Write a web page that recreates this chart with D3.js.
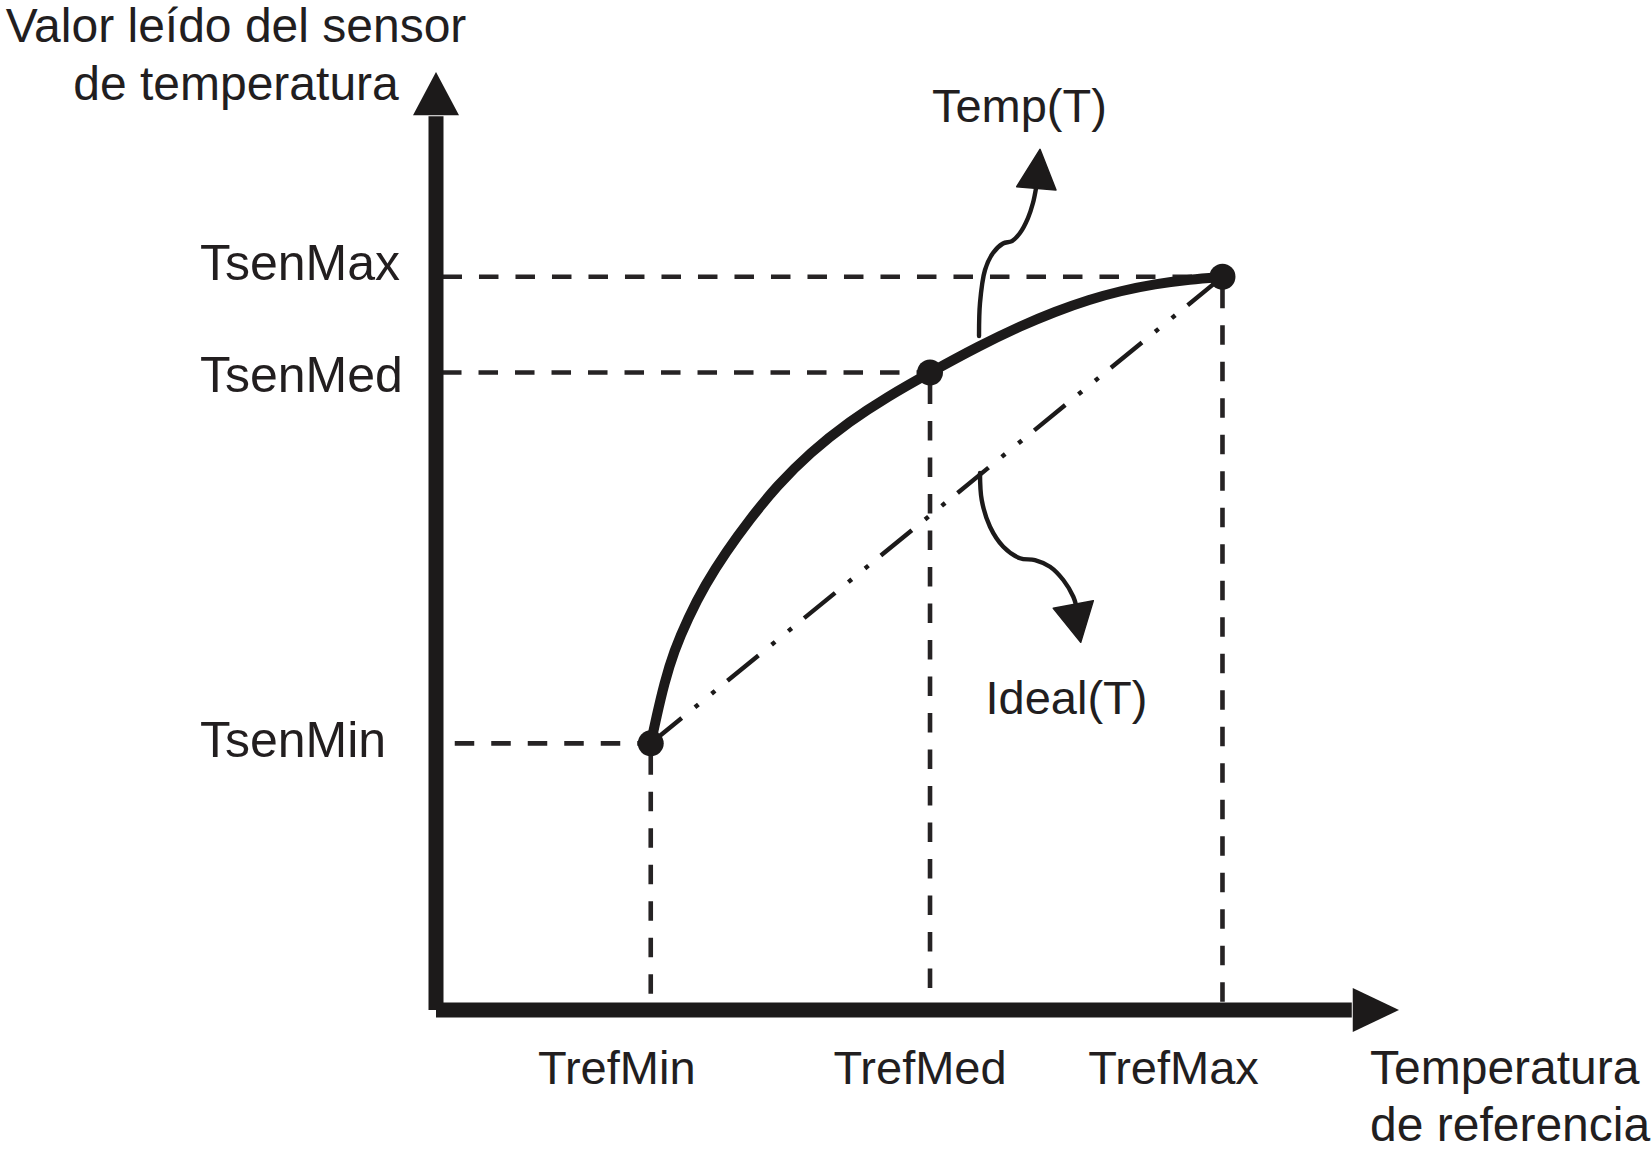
<!DOCTYPE html>
<html>
<head>
<meta charset="utf-8">
<script src="https://cdn.jsdelivr.net/npm/d3@7"></script>
<style>
  html, body { margin: 0; padding: 0; background: #ffffff; }
  svg { display: block; }
  text { font-family: "Liberation Sans", Arial, Helvetica, sans-serif; fill: #221e1f; }
</style>
</head>
<body>
<div id="chart"></div>
<script>
// ---------- data (values in chart units, x: reference temp, y: sensor reading) ----------
const refLabels = ["TrefMin", "TrefMed", "TrefMax"];
const refValues = [22.30, 51.30, 81.67];
const senLabels = ["TsenMin", "TsenMed", "TsenMax"];
const senValues = [28.43, 67.96, 78.17];

// Temp(T): real sensor response curve
const tempX = [22.30, 22.90, 23.68, 24.71, 26.17, 27.93, 30.11, 32.61, 35.38, 38.84, 42.99,
               46.83, 51.30, 56.49, 60.64, 64.28, 67.91, 71.03, 74.66, 78.30, 81.67];
const tempY = [28.43, 31.27, 34.75, 38.27, 41.79, 45.31, 48.83, 52.35, 55.86, 59.43, 62.79,
               65.35, 67.96, 70.84, 72.89, 74.46, 75.76, 76.65, 77.40, 77.89, 78.17];

// Ideal(T): straight line between the extreme calibration points
const idealX = [22.30, 81.67];
const idealY = [28.43, 78.17];

// annotation pointers (chart units)
const tempPointerX = [56.39, 56.49, 57.01, 57.84, 58.88, 59.81, 60.64, 61.47, 61.99, 62.31];
const tempPointerY = [71.86, 75.37, 78.89, 80.70, 81.72, 81.98, 82.84, 84.43, 86.03, 87.63];
const tempHeadX = [60.30, 62.72, 64.38];
const tempHeadY = [87.77, 91.76, 87.42];

const idealPointerX = [56.49, 56.67, 57.53, 58.91, 60.64, 62.20, 63.76, 65.14, 66.18, 66.46];
const idealPointerY = [57.25, 54.37, 51.52, 49.39, 48.16, 47.97, 47.26, 45.84, 44.06, 43.18];
const idealHeadX = [64.10, 66.95, 68.26];
const idealHeadY = [42.82, 39.20, 43.64];

const seriesLabels = ["Temp(T)", "Ideal(T)"];
const seriesLabelX = [51.5, 57.06];
const seriesLabelY = [94.7, 31.56];

const yTitle = ["Valor leído del sensor", "de temperatura"];
const xTitle = ["Temperatura", "de referencia"];

// ---------- layout ----------
const W = 1652, H = 1153;
const ink = "#1c1a1a";
const FS = 47;

const svg = d3.select("#chart").append("svg")
  .attr("width", W).attr("height", H)
  .attr("viewBox", `0 0 ${W} ${H}`);
svg.append("rect").attr("width", W).attr("height", H).attr("fill", "#ffffff");

const x = d3.scaleLinear().domain([0, 100]).range([436, 1399]);
const y = d3.scaleLinear().domain([0, 100]).range([1010, 72]);

const zip = (xs, ys) => xs.map((v, i) => [v, ys[i]]);
const lineGen = d3.line().x(d => x(d[0])).y(d => y(d[1]));

// ---------- guide dashed lines ----------
const guides = svg.append("g")
  .attr("stroke", "#262324").attr("stroke-width", 4.6)
  .attr("stroke-dasharray", "19.5 17").attr("fill", "none");
refValues.forEach((rv, i) => {
  guides.append("line")
    .attr("x1", x(rv)).attr("x2", x(0))
    .attr("y1", y(senValues[i])).attr("y2", y(senValues[i]))
    .attr("stroke-dashoffset", 6);
  guides.append("line")
    .attr("x1", x(rv)).attr("x2", x(rv))
    .attr("y1", y(senValues[i])).attr("y2", y(0))
    .attr("stroke-dashoffset", -12);
});

// ---------- Ideal(T) dash-dot-dot line ----------
svg.append("path")
  .attr("d", lineGen(zip(idealX, idealY)))
  .attr("fill", "none").attr("stroke", ink)
  .attr("stroke-width", 4.4)
  .attr("stroke-dasharray", "40 17 4.5 17 4.5 16");

// ---------- Temp(T) curve ----------
const curveGen = d3.line().x(d => x(d[0])).y(d => y(d[1])).curve(d3.curveBasis);
svg.append("path")
  .attr("d", curveGen(zip(tempX, tempY)))
  .attr("fill", "none").attr("stroke", ink)
  .attr("stroke-width", 10).attr("stroke-linecap", "round");

// calibration points
svg.append("g").selectAll("circle")
  .data(refValues)
  .join("circle")
  .attr("cx", d => x(d))
  .attr("cy", (d, i) => y(senValues[i]))
  .attr("r", 13)
  .attr("fill", ink);

// ---------- axes with arrowheads ----------
const axes = svg.append("g");
const yArrowBase = 95.4, xArrowBase = 95.2;
axes.append("line")
  .attr("x1", x(0)).attr("x2", x(0))
  .attr("y1", y(0)).attr("y2", y(yArrowBase) + 1)
  .attr("stroke", ink).attr("stroke-width", 15);
axes.append("path")
  .attr("d", `M${x(0) - 23},${y(yArrowBase)} L${x(0)},${y(100)} L${x(0) + 23},${y(yArrowBase)} Z`)
  .attr("fill", ink);
axes.append("line")
  .attr("x1", x(0)).attr("x2", x(xArrowBase) - 1)
  .attr("y1", y(0)).attr("y2", y(0))
  .attr("stroke", ink).attr("stroke-width", 15);
axes.append("path")
  .attr("d", `M${x(xArrowBase)},${y(0) - 22} L${x(100)},${y(0)} L${x(xArrowBase)},${y(0) + 22} Z`)
  .attr("fill", ink);

// ---------- annotation pointers ----------
const smooth = d3.line().x(d => x(d[0])).y(d => y(d[1])).curve(d3.curveCatmullRom.alpha(0.5));
[[tempPointerX, tempPointerY, tempHeadX, tempHeadY],
 [idealPointerX, idealPointerY, idealHeadX, idealHeadY]].forEach(([px, py, hx, hy]) => {
  svg.append("path")
    .attr("d", smooth(zip(px, py)))
    .attr("fill", "none").attr("stroke", ink)
    .attr("stroke-width", 4.4).attr("stroke-linecap", "round");
  svg.append("path")
    .attr("d", lineGen(zip(hx, hy)) + "Z")
    .attr("fill", ink).attr("stroke", ink).attr("stroke-width", 1.5)
    .attr("stroke-linejoin", "round");
});

// ---------- text ----------
svg.append("g").selectAll("text")
  .data(seriesLabels)
  .join("text")
  .attr("x", (d, i) => x(seriesLabelX[i]))
  .attr("y", (d, i) => y(seriesLabelY[i]))
  .attr("font-size", FS)
  .text(d => d);

// y tick labels (left aligned column)
const senBaselineNudge = [14, 19, 3];
svg.append("g").selectAll("text")
  .data(senLabels)
  .join("text")
  .attr("x", 200)
  .attr("y", (d, i) => y(senValues[i]) + senBaselineNudge[i])
  .attr("font-size", 50)
  .text(d => d);

// x tick labels
const refCenterNudge = [-34, -10, -49];
svg.append("g").selectAll("text")
  .data(refLabels)
  .join("text")
  .attr("x", (d, i) => x(refValues[i]) + refCenterNudge[i])
  .attr("y", 1084)
  .attr("text-anchor", "middle")
  .attr("font-size", FS)
  .text(d => d);

// axis titles
svg.append("g").selectAll("text")
  .data(yTitle)
  .join("text")
  .attr("x", 236)
  .attr("y", (d, i) => 42 + i * 58)
  .attr("text-anchor", "middle")
  .attr("font-size", 48)
  .text(d => d);

svg.append("g").selectAll("text")
  .data(xTitle)
  .join("text")
  .attr("x", 1370)
  .attr("y", (d, i) => 1083.5 + i * 57)
  .attr("font-size", 48)
  .text(d => d);
</script>
</body>
</html>
